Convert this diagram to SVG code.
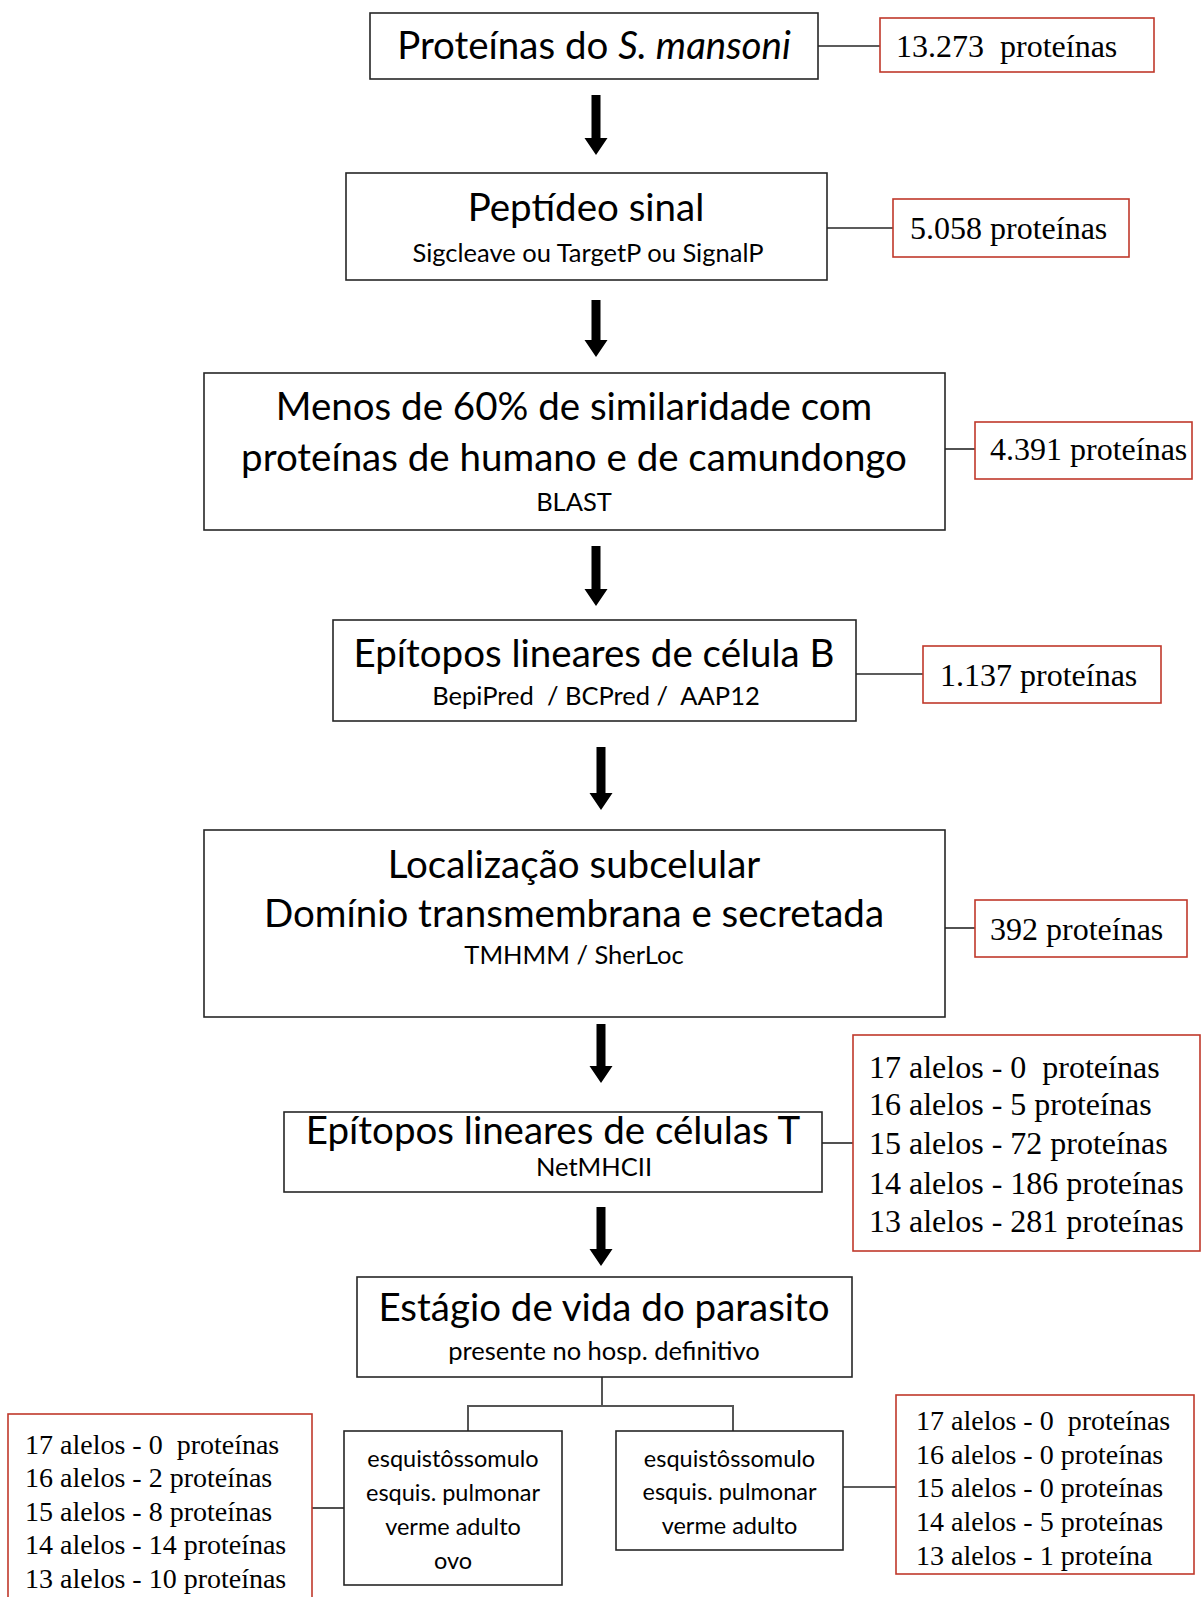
<svg xmlns="http://www.w3.org/2000/svg" width="1202" height="1597" viewBox="0 0 1202 1597">
<style>
.box{fill:#fff;stroke:#262626;stroke-width:1.6}
.rbox{fill:#fff;stroke:#c0392b;stroke-width:1.6}
.t1{font-family:Lato,"Open Sans",sans-serif;font-size:38.5px;fill:#000;text-anchor:middle}
.t2{font-family:Lato,"Open Sans",sans-serif;font-size:25.5px;fill:#000;text-anchor:middle}
.t3{font-family:Lato,"Open Sans",sans-serif;font-size:23.5px;fill:#000;text-anchor:middle}
.r{font-family:"Liberation Serif","Times New Roman",serif;font-size:32px;fill:#000;white-space:pre}
.rs{font-family:"Liberation Serif","Times New Roman",serif;font-size:28px;fill:#000;white-space:pre}
.ln{stroke:#262626;stroke-width:1.6;fill:none}
.tr{stroke:#555;stroke-width:2;fill:none}
.ar{fill:#000}
</style>
<rect width="1202" height="1597" fill="#fff"/>
<g id="connectors">
<line class="ln" x1="818" y1="46" x2="880" y2="46"/>
<line class="ln" x1="827" y1="228" x2="893" y2="228"/>
<line class="ln" x1="945" y1="449" x2="975" y2="449"/>
<line class="ln" x1="856" y1="674" x2="923" y2="674"/>
<line class="ln" x1="945" y1="928" x2="975" y2="928"/>
<line class="ln" x1="822" y1="1143" x2="853" y2="1143"/>
<line class="ln" x1="312" y1="1508" x2="344" y2="1508"/>
<line class="ln" x1="843" y1="1487" x2="896" y2="1487"/>
<path class="tr" d="M602 1377 V1406 M468 1431 V1406 H733 V1431"/>
<path class="ar" d="M591.5 95 H600.5 V138 H607.5 L596 155 L584.5 138 H591.5 Z"/>
<path class="ar" d="M591.5 300 H600.5 V340 H607.5 L596 357 L584.5 340 H591.5 Z"/>
<path class="ar" d="M591.5 546 H600.5 V589 H607.5 L596 606 L584.5 589 H591.5 Z"/>
<path class="ar" d="M596.5 747 H605.5 V793 H612.5 L601 810 L589.5 793 H596.5 Z"/>
<path class="ar" d="M596.5 1024 H605.5 V1066 H612.5 L601 1083 L589.5 1066 H596.5 Z"/>
<path class="ar" d="M596.5 1207 H605.5 V1249 H612.5 L601 1266 L589.5 1249 H596.5 Z"/>
</g>
<g id="n1">
<rect class="box" x="370" y="13" width="448" height="66"/>
<text class="t1" x="594" y="59">Proteínas do <tspan font-style="italic">S. mansoni</tspan></text>
</g>
<g id="r1">
<rect class="rbox" x="880" y="18" width="274" height="54"/>
<text class="r" x="896" y="57">13.273  proteínas</text>
</g>
<g id="n2">
<rect class="box" x="346" y="173" width="481" height="107"/>
<text class="t1" x="586" y="221">Peptídeo sinal</text>
<text class="t2" x="588" y="262" font-size="29.5">Sigcleave ou TargetP ou SignalP</text>
</g>
<g id="r2">
<rect class="rbox" x="893" y="199" width="236" height="58"/>
<text class="r" x="910" y="239">5.058 proteínas</text>
</g>
<g id="n3">
<rect class="box" x="204" y="373" width="741" height="157"/>
<text class="t1" x="574" y="420">Menos de 60% de similaridade com</text>
<text class="t1" x="574" y="471">proteínas de humano e de camundongo</text>
<text class="t2" x="574" y="511">BLAST</text>
</g>
<g id="r3">
<rect class="rbox" x="975" y="422" width="217" height="57"/>
<text class="r" x="990" y="460">4.391 proteínas</text>
</g>
<g id="n4">
<rect class="box" x="333" y="620" width="523" height="101"/>
<text class="t1" x="594" y="667">Epítopos lineares de célula B</text>
<text class="t2" x="596" y="705" style="white-space:pre">BepiPred  / BCPred /  AAP12</text>
</g>
<g id="r4">
<rect class="rbox" x="923" y="646" width="238" height="57"/>
<text class="r" x="940" y="686">1.137 proteínas</text>
</g>
<g id="n5">
<rect class="box" x="204" y="830" width="741" height="187"/>
<text class="t1" x="574" y="878">Localização subcelular</text>
<text class="t1" x="574" y="927">Domínio transmembrana e secretada</text>
<text class="t2" x="574" y="964">TMHMM / SherLoc</text>
</g>
<g id="r5">
<rect class="rbox" x="975" y="900" width="212" height="57"/>
<text class="r" x="990" y="940">392 proteínas</text>
</g>
<g id="n6">
<rect class="box" x="284" y="1112" width="538" height="80"/>
<text class="t1" x="553" y="1144">Epítopos lineares de células T</text>
<text class="t2" x="594" y="1176">NetMHCII</text>
</g>
<g id="r6">
<rect class="rbox" x="853" y="1035" width="347" height="216"/>
<text class="r" x="869" y="1078">17 alelos - 0  proteínas</text>
<text class="r" x="869" y="1115">16 alelos - 5 proteínas</text>
<text class="r" x="869" y="1154">15 alelos - 72 proteínas</text>
<text class="r" x="869" y="1194">14 alelos - 186 proteínas</text>
<text class="r" x="869" y="1232">13 alelos - 281 proteínas</text>
</g>
<g id="n7">
<rect class="box" x="357" y="1277" width="495" height="100"/>
<text class="t1" x="604" y="1321">Estágio de vida do parasito</text>
<text class="t2" x="604" y="1360" font-size="26.5">presente no hosp. definitivo</text>
</g>
<g id="n8">
<rect class="box" x="344" y="1431" width="218" height="154"/>
<text class="t3" x="453" y="1467">esquistôssomulo</text>
<text class="t3" x="453" y="1501">esquis. pulmonar</text>
<text class="t3" x="453" y="1535">verme adulto</text>
<text class="t3" x="453" y="1569">ovo</text>
</g>
<g id="n9">
<rect class="box" x="616" y="1431" width="227" height="119"/>
<text class="t3" x="729.5" y="1467">esquistôssomulo</text>
<text class="t3" x="729.5" y="1500">esquis. pulmonar</text>
<text class="t3" x="729.5" y="1534">verme adulto</text>
</g>
<g id="r8">
<rect class="rbox" x="8" y="1414" width="304" height="200"/>
<text class="rs" x="25" y="1454">17 alelos - 0  proteínas</text>
<text class="rs" x="25" y="1487">16 alelos - 2 proteínas</text>
<text class="rs" x="25" y="1521">15 alelos - 8 proteínas</text>
<text class="rs" x="25" y="1554">14 alelos - 14 proteínas</text>
<text class="rs" x="25" y="1588">13 alelos - 10 proteínas</text>
</g>
<g id="r9">
<rect class="rbox" x="896" y="1395" width="298" height="179"/>
<text class="rs" x="916" y="1430">17 alelos - 0  proteínas</text>
<text class="rs" x="916" y="1464">16 alelos - 0 proteínas</text>
<text class="rs" x="916" y="1497">15 alelos - 0 proteínas</text>
<text class="rs" x="916" y="1531">14 alelos - 5 proteínas</text>
<text class="rs" x="916" y="1565">13 alelos - 1 proteína</text>
</g>
</svg>
